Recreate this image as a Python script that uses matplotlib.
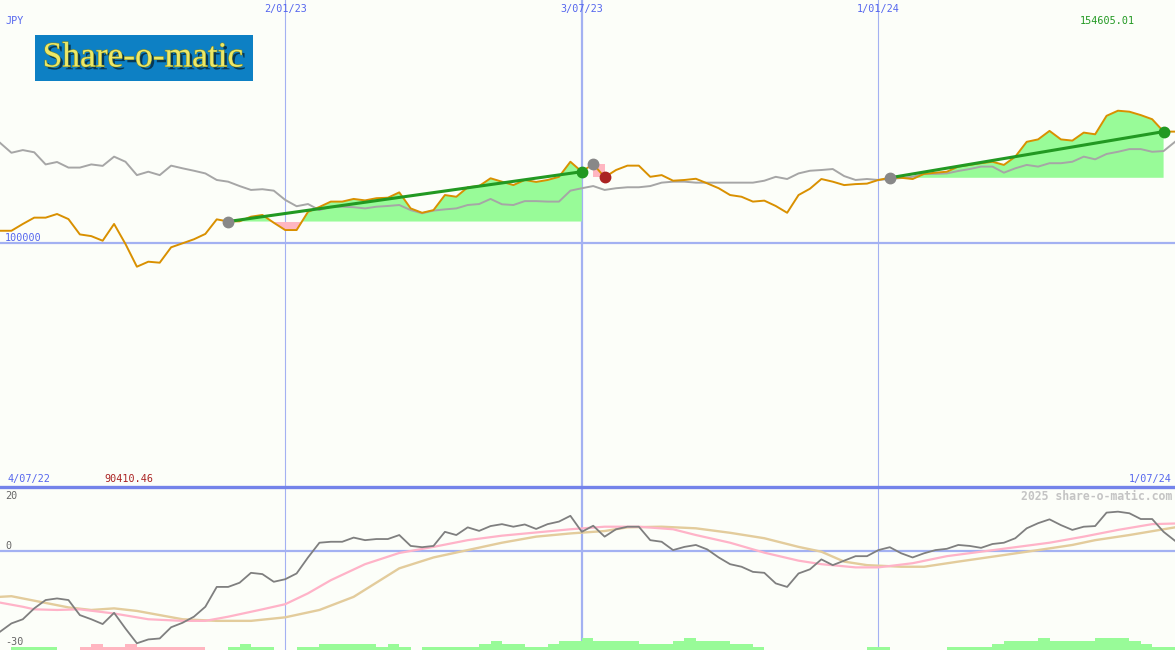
import matplotlib
matplotlib.use('Agg')
import matplotlib.pyplot as plt
import matplotlib.patheffects as pe
from matplotlib.patches import Rectangle
from matplotlib.lines import Line2D
import numpy as np
import pandas as pd

# weekly closes, 11 Jul 2022 .. 1 Jul 2024
weeks = pd.date_range('2022-07-11', periods=104, freq='7D')

portfolio = [105200, 105200, 108000, 110600, 110600, 112100, 110000, 103700, 103000, 101100,
             108000, 99750, 90410.46, 92470, 92060, 98400, 100040, 101700, 103900, 109900,
             109000, 109100, 111000, 111700, 108500, 105500, 105500, 113000, 115000, 117200,
             117200, 118300, 117700, 118600, 118800, 121000, 114400, 112600, 113700, 119900,
             119200, 123100, 123600, 126800, 125400, 124000, 126100, 125300, 126100, 127400,
             133600, 129500, 132700, 127200, 130200, 132000, 132000, 127400, 128100, 125800,
             126100, 126600, 124700, 122700, 119900, 119200, 117200, 117600, 115400, 112600,
             119900, 122500, 126500, 125400, 124000, 124400, 124600, 126100, 127000, 127000,
             126500, 128600, 129100, 129500, 131600, 132300, 133000, 133600, 132300, 135700,
             141800, 142800, 146300, 142800, 142300, 145600, 144900, 152500, 154605.01, 154200,
             152800, 151100, 146000, 146000]

benchmark = [141400, 137300, 138400, 137500, 132500, 133500, 131200, 131200, 132500, 131900,
             135700, 133600, 128100, 129500, 128100, 132000, 130900, 129900, 128800, 126100,
             125400, 123600, 122000, 122300, 121700, 117900, 115300, 116200, 113700, 115100,
             115100, 114900, 114400, 115100, 115400, 115800, 113700, 112400, 113500, 114000,
             114400, 115800, 116200, 118300, 116100, 115800, 117400, 117400, 117200, 117200,
             121700, 122700, 123600, 122000, 122700, 123100, 123100, 123600, 125000, 125400,
             125400, 125000, 125000, 125000, 125000, 125000, 125000, 125800, 127400, 126500,
             128800, 129900, 130200, 130600, 127700, 126100, 126500, 126100, 126500, 126900,
             127400, 128600, 128600, 128800, 129800, 130600, 131600, 131600, 129100, 130900,
             132300, 131600, 133000, 133000, 133600, 135700, 134600, 136800, 137700, 138800,
             138800, 137700, 138000, 141800]

momentum = [-25.2, -22.6, -21.3, -17.9, -15.3, -14.8, -15.3, -20, -21.3, -22.8,
            -19.3, -24.2, -28.8, -27.6, -27.3, -23.8, -22.4, -20.5, -17.4, -11.2,
            -11.2, -9.9, -6.8, -7.2, -9.6, -8.8, -7, -2, 2.6, 2.9,
            2.9, 4.2, 3.4, 3.75, 3.75, 5, 1.6, 1.2, 1.6, 6,
            5, 7.4, 6.3, 7.8, 8.4, 7.6, 8.3, 6.9, 8.4, 9.2,
            11, 6, 7.9, 4.5, 6.8, 7.6, 7.6, 3.4, 2.9, 0.3,
            1.3, 1.9, 0.5, -2, -4.1, -4.9, -6.5, -6.8, -10.1, -11.2,
            -7, -5.7, -2.6, -4.4, -3, -1.6, -1.6, 0.3, 1.2, -0.7,
            -2, -0.7, 0.3, 0.7, 1.9, 1.6, 1, 2.2, 2.6, 4,
            7.1, 8.7, 9.9, 8.1, 6.6, 7.6, 7.8, 12, 12.3, 11.8,
            10, 10, 6, 3.2]

fast_weeks = [0, 2, 3, 5, 7, 10, 13, 16, 18, 20, 23, 25, 27, 29, 32, 35, 38, 41, 44, 47,
              50, 53, 56, 59, 61, 64, 67, 70, 72, 75, 77, 80, 83, 86, 89, 92, 95, 98, 101, 103]
fast_ma = [-16.1, -17.4, -18.2, -18.4, -18.2, -19.5, -21.3, -21.8, -21.8, -20.5,
           -18.2, -16.6, -13.2, -9.1, -4.1, -0.6, 1.3, 3.4, 4.8, 5.8,
           6.8, 7.6, 7.6, 6.8, 5, 2.6, -0.5, -3, -4.1, -5.1,
           -5.1, -3.8, -1.6, -0.2, 1.2, 2.6, 4.5, 6.6, 8.4, 8.6]

slow_weeks = [0, 1, 3, 6, 8, 10, 12, 14, 16, 19, 22, 25, 28, 31, 35, 38, 41, 44, 47, 50,
              53, 55, 58, 61, 64, 67, 70, 72, 74, 76, 79, 81, 84, 88, 91, 94, 96, 99, 103]
slow_ma = [-14.3, -14.1, -15.5, -17.6, -18.4, -17.9, -18.7, -20, -21.3, -21.8,
           -21.8, -20.7, -18.4, -14.3, -5.4, -2, 0.3, 2.6, 4.5, 5.5,
           6.25, 7.4, 7.6, 7.1, 5.7, 4, 1.3, -0.2, -3.3, -4.4,
           -4.9, -4.9, -3.3, -1.25, 0.3, 1.9, 3.4, 5, 7.4]

# signal strength bars (+ green, - pink)
signal = [0, 1, 1, 1, 1, 0, 0, -1, -2, -1,
          -1, -2, -1, -1, -1, -1, -1, -1, 0, 0,
          1, 2, 1, 1, 0, 0, 1, 1, 2, 2,
          2, 2, 2, 1, 2, 1, 0, 1, 1, 1,
          1, 1, 2, 3, 2, 2, 1, 1, 2, 3,
          3, 4, 3, 3, 3, 3, 2, 2, 2, 3,
          4, 3, 3, 3, 2, 2, 1, 0, 0, 0,
          0, 0, 0, 0, 0, 0, 1, 1, 0, 0,
          0, 0, 0, 1, 1, 1, 1, 2, 3, 3,
          3, 4, 3, 3, 3, 3, 4, 4, 4, 3,
          2, 1, 1, 0]

trade_entry = [20, 52, 78]
trade_exit = [51, 53, 102]

grid_dates = ['2023-01-02', '2023-07-03', '2024-01-01']
grid_labels = ['2/01/23', '3/07/23', '1/01/24']

W, H = 1175, 650
bg = '#fcfef9'
blue = '#a3b1f2'
mono = 'DejaVu Sans Mono'

fig = plt.figure(figsize=(W / 100, H / 100), dpi=100, facecolor=bg)
ax = fig.add_axes([0, 163 / H, 1, 487 / H])
ax2 = fig.add_axes([0, 0, 1, 163 / H])
for a in (ax, ax2):
    a.set_axis_off()
    a.set_xlim(weeks[0], weeks[-1])
    for d, w in zip(grid_dates, [0.8, 1.6, 0.8]):
        a.axvline(pd.Timestamp(d), color=blue, lw=w, zorder=1)

ax.set_ylim(-240, 200160)
ax2.set_ylim(-30.9, 20)

# top panel
ax.axhline(100000, color=blue, lw=1.6, zorder=1)
pv = np.array(portfolio, dtype=float)
for e, x in zip(trade_entry, trade_exit):
    xs = weeks[e:x + 1]
    ys = pv[e:x + 1]
    base = pv[e]
    step = 'post' if x - e == 1 else None
    ax.fill_between(xs, base, ys, where=ys >= base, interpolate=True, color='#98fb98', lw=0, zorder=2)
    if step:
        ax.fill_between(xs, base, ys[::-1], step='post', color='#ffb6c1', lw=0, zorder=2)
    else:
        ax.fill_between(xs, base, ys, where=ys < base, interpolate=True, color='#ffb6c1', lw=0, zorder=2)

ax.plot(weeks, benchmark, color='#a6a6a6', lw=1.4, zorder=3)
ax.plot(weeks, portfolio, color='#d99000', lw=1.4, zorder=4)
for e, x in zip(trade_entry, trade_exit):
    win = pv[x] > pv[e]
    if win:
        ax.plot([weeks[e], weeks[x]], [pv[e], pv[x]], color='#229922', lw=2.2, zorder=5)
    ax.plot(weeks[e], pv[e], 'o', color='#888888', ms=7.5, zorder=6)
    ax.plot(weeks[x], pv[x], 'o', color='#229922' if win else '#aa2222', ms=7.5, zorder=6)

# bottom panel
ax2.axhline(0, color=blue, lw=1.6, zorder=1)
sig = np.array(signal)
ax2.bar(weeks, np.abs(sig) * 0.94, bottom=-30.9, width=7, align='edge',
        color=np.where(sig < 0, '#ffb6c1', '#98fb98'), lw=0, zorder=2)
ax2.plot(weeks[slow_weeks], slow_ma, color='#e3cc9c', lw=1.7, zorder=3)
ax2.plot(weeks[fast_weeks], fast_ma, color='#ffb3c8', lw=1.6, zorder=4)
ax2.plot(weeks, momentum, color='#7f7f7f', lw=1.3, zorder=5)

fig.add_artist(Line2D([0, 1], [163 / H, 163 / H], color='#7483ea', lw=2.4))


def label(x, y, s, color, ha='left', **kw):
    fig.text(x / W, 1 - y / H, s, color=color, ha=ha, va='center',
             fontfamily=mono, fontsize=kw.pop('fontsize', 7.3), **kw)


label(5, 21, 'JPY', '#5566ee')
for d, s in zip(grid_dates, grid_labels):
    xp = (pd.Timestamp(d) - weeks[0]) / (weeks[-1] - weeks[0]) * W
    label(xp, 9, s, '#5566ee', ha='center')
label(1080, 21, '154605.01', '#229922')
label(5, 238, '100000', '#5566ee')
label(7, 479, '4/07/22', '#5566ee')
label(104, 479, '90410.46', '#aa2222')
label(1172, 479, '1/07/24', '#5566ee', ha='right')
label(1172, 496, '2025 share-o-matic.com', '#c4c4c4', ha='right', fontsize=8.3, fontweight='bold')
label(5, 496, '20', '#666666')
label(5, 546, '0', '#666666')
label(5, 642, '-30', '#666666')

# logo
fig.add_artist(Rectangle((35 / W, 1 - 81 / H), 218 / W, 46 / H, transform=fig.transFigure,
                         color='#0d80c4', lw=0))
fig.text(143 / W, 1 - 58 / H, 'Share-o-matic', fontfamily='Liberation Serif', fontsize=25.5,
         color='#ece868', ha='center', va='center',
         path_effects=[pe.withSimplePatchShadow(offset=(2, -2), shadow_rgbFace='#06304a', alpha=0.9),
                       pe.Stroke(linewidth=0.8, foreground='#7d8a2a'), pe.Normal()])

fig.savefig('out.png', dpi=100, facecolor=bg)
